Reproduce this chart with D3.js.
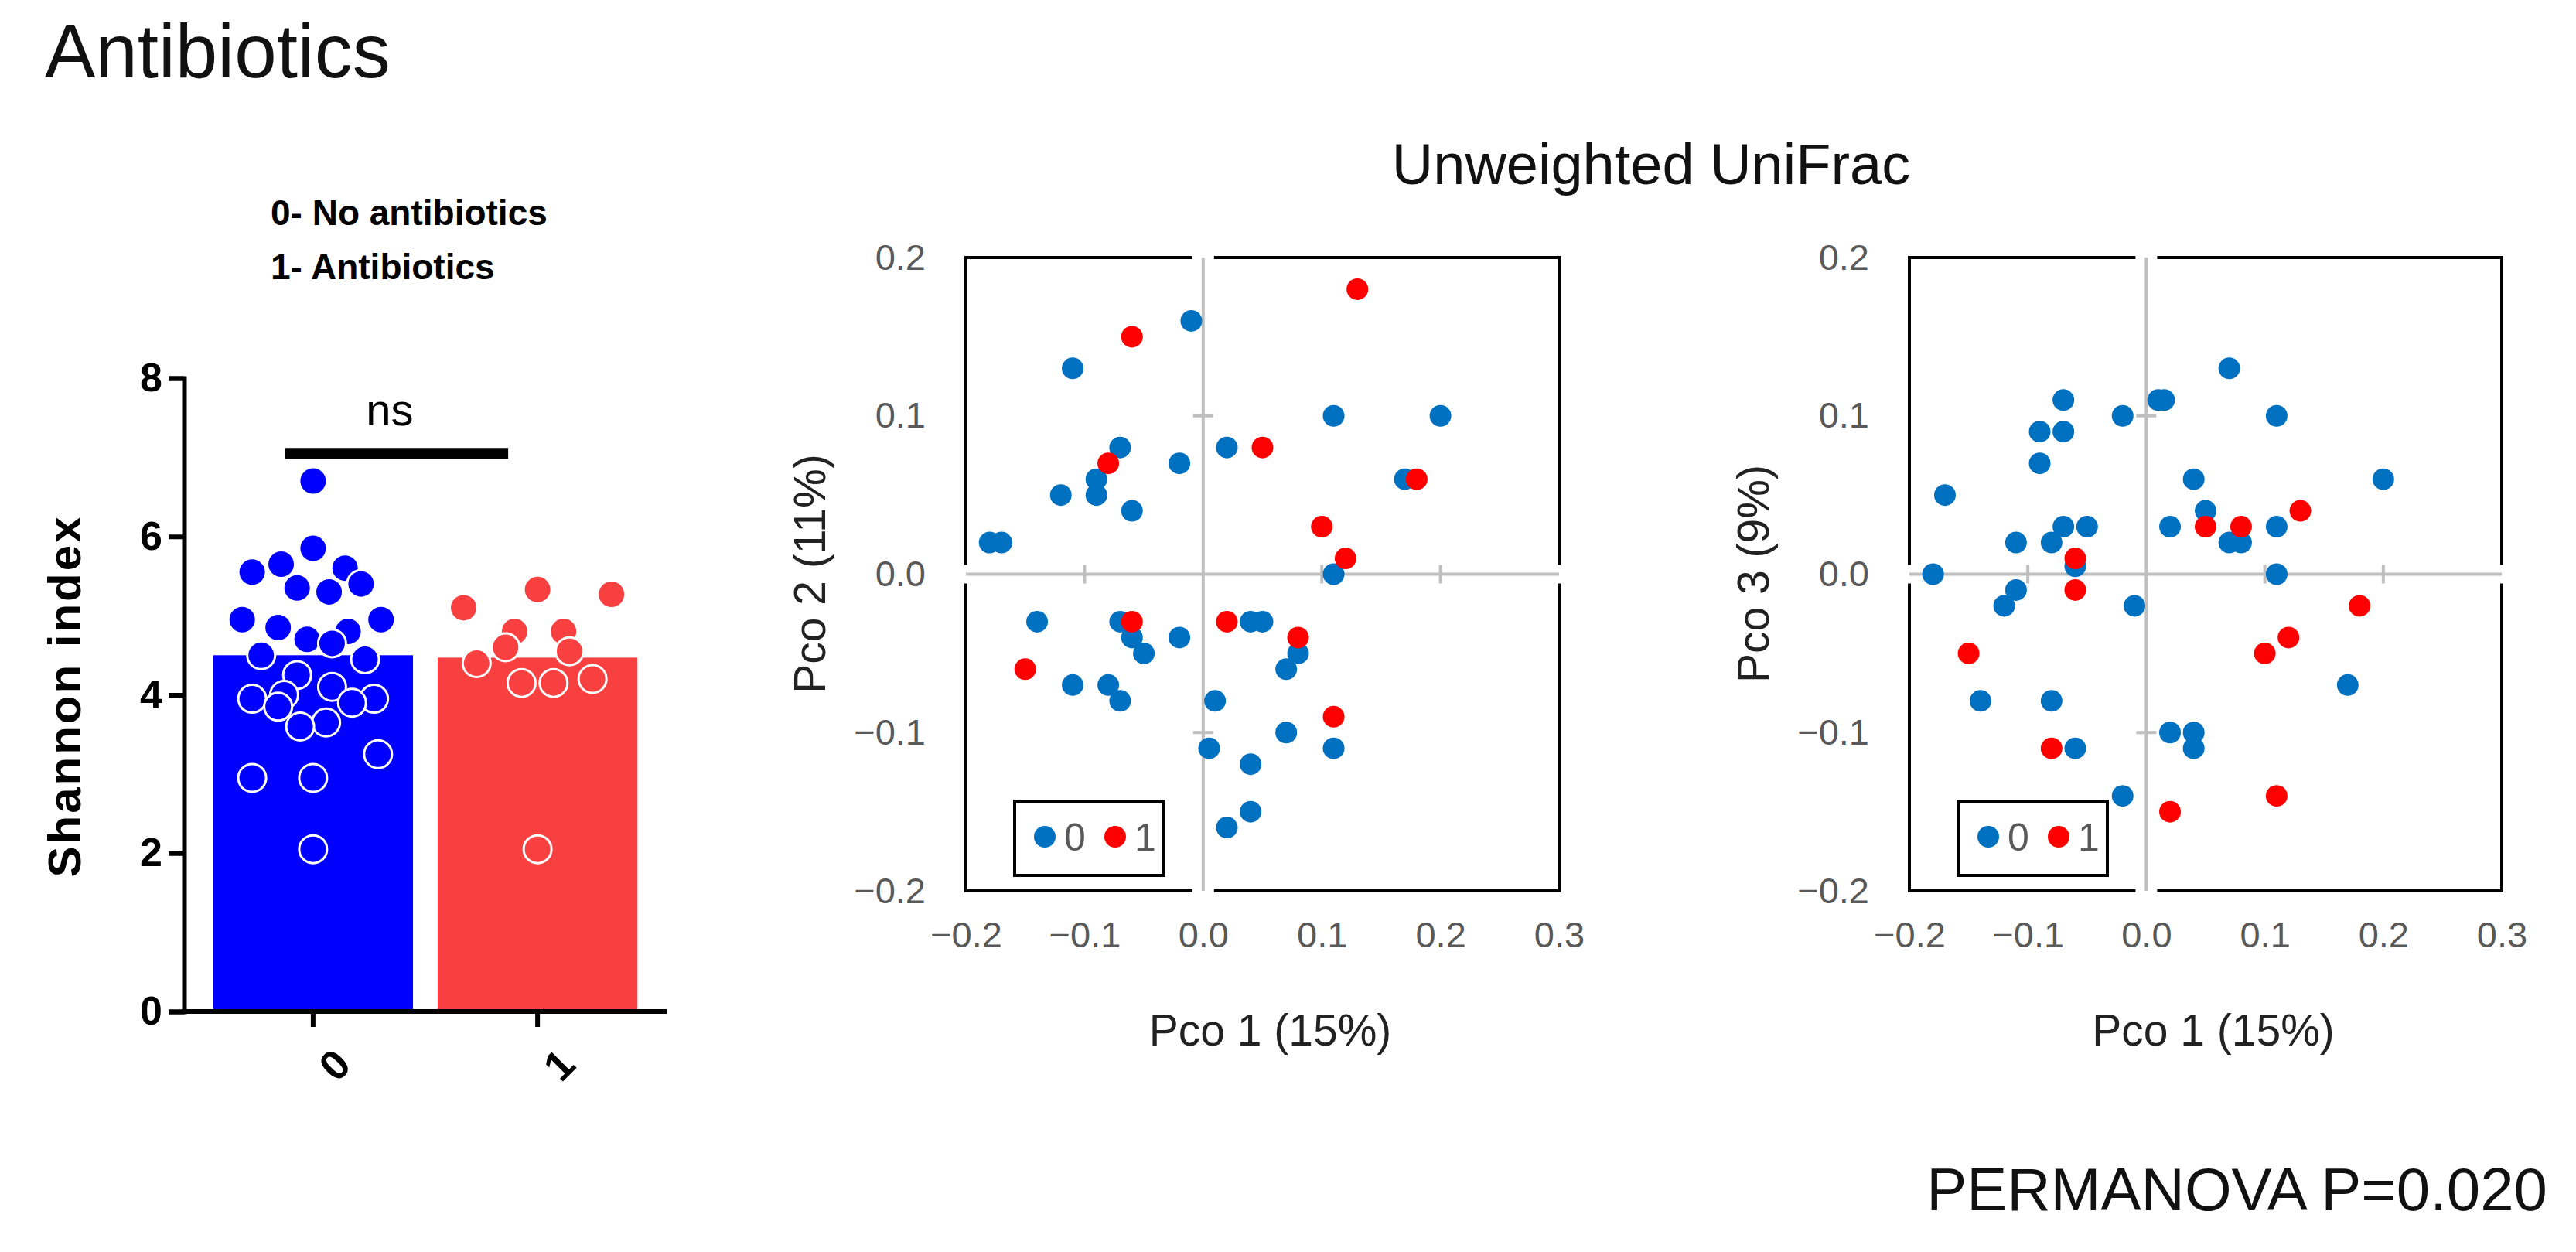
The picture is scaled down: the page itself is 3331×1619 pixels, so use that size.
<!DOCTYPE html>
<html>
<head>
<meta charset="utf-8">
<script src="https://d3js.org/d3.v7.min.js"></script>
<style>
  body { margin: 0; background: #fff; }
  text { font-family: Arial, "Liberation Sans", sans-serif; }
</style>
</head>
<body>
<script>
// Shannon index bar chart
var groups = ["0", "1"]
var groupMeans = [4.5, 4.47]
var groupColors = ["#0000ff", "#f94040"]
// [value, jitter as fraction of half bar width]
var shannon0 = [[6.7,0],[5.85,0],[5.65,-0.32],[5.55,-0.61],[5.6,0.32],[5.4,0.48],[5.35,-0.16],[5.3,0.16],
  [4.95,-0.71],[4.95,0.68],[4.85,-0.35],[4.8,0.35],[4.7,-0.06],[4.65,0.19],[4.5,-0.52],[4.45,0.52],
  [4.25,-0.16],[4.1,0.19],[4.0,-0.29],[3.95,-0.61],[3.95,0.61],[3.9,0.39],[3.85,-0.35],[3.65,0.13],
  [3.6,-0.13],[3.25,0.65],[2.95,-0.61],[2.95,0],[2.05,0]]
var shannon1 = [[5.33,0],[5.27,0.74],[5.1,-0.74],[4.8,-0.23],[4.8,0.26],[4.6,-0.32],[4.55,0.32],
  [4.4,-0.61],[4.2,0.55],[4.15,-0.16],[4.15,0.16],[2.05,0]]
var shannonTicks = [0, 2, 4, 6, 8]

// PCoA scatter
var pco1_blue = [-0.18,-0.17,-0.11,-0.12,-0.09,-0.09,-0.07,-0.06,-0.02,-0.01,0.02,0.11,0.20,0.17,0.11,
  -0.14,-0.07,-0.06,-0.05,-0.02,-0.11,-0.08,-0.07,0.01,0.04,0.05,0.08,0.07,0.07,0.11,0.005,0.04,0.04,0.02]
var pco2_blue = [0.02,0.02,0.13,0.05,0.06,0.05,0.08,0.04,0.07,0.16,0.08,0.10,0.10,0.06,0.00,
  -0.03,-0.03,-0.04,-0.05,-0.04,-0.07,-0.07,-0.08,-0.08,-0.03,-0.03,-0.05,-0.06,-0.10,-0.11,-0.11,-0.12,-0.15,-0.16]
var pco1_red = [-0.06,0.13,-0.08,0.05,0.18,0.10,0.12,-0.06,0.02,0.08,-0.15,0.11]
var pco2_red = [0.15,0.18,0.07,0.08,0.06,0.03,0.01,-0.03,-0.03,-0.04,-0.06,-0.09]

var pco1b_blue = [-0.17,-0.18,-0.09,-0.07,-0.07,-0.09,-0.02,0.01,0.015,0.07,0.11,0.04,0.05,0.02,0.07,0.08,0.11,0.20,0.11,
  -0.07,-0.05,-0.11,-0.08,-0.06,-0.11,-0.12,-0.01,-0.14,-0.08,-0.06,0.02,0.04,0.04,-0.02,0.17]
var pco3_blue = [0.05,0.0,0.09,0.11,0.09,0.07,0.10,0.11,0.11,0.13,0.10,0.06,0.04,0.03,0.02,0.02,0.03,0.06,0.0,
  0.03,0.03,0.02,0.02,0.005,-0.01,-0.02,-0.02,-0.08,-0.08,-0.11,-0.10,-0.10,-0.11,-0.14,-0.07]
var pco1b_red = [-0.06,-0.06,0.05,0.08,0.13,0.18,0.12,0.10,-0.15,-0.08,0.02,0.11]
var pco3_red = [0.01,-0.01,0.03,0.03,0.04,-0.02,-0.04,-0.05,-0.05,-0.11,-0.15,-0.14]

var pcoTicksX = [-0.2,-0.1,0.0,0.1,0.2,0.3]
var pcoTicksY = [-0.2,-0.1,0.0,0.1,0.2]

var svg = d3.select("body").append("svg").attr("width", 3331).attr("height", 1619)

svg.append("text").attr("x", 58).attr("y", 100).attr("font-size", 98).attr("fill", "#111").text("Antibiotics")
svg.append("text").attr("x", 350).attr("y", 291).attr("font-size", 46).attr("font-weight", "bold").attr("font-family", "Open Sans").text("0- No antibiotics")
svg.append("text").attr("x", 350).attr("y", 361).attr("font-size", 46).attr("font-weight", "bold").attr("font-family", "Open Sans").text("1- Antibiotics")

// ---- bar chart
var bx = d3.scaleBand().domain(groups).range([238, 862]).paddingInner(0.11).paddingOuter(0.13)
var by = d3.scaleLinear().domain([0, 8]).range([1308, 489])
var bar = svg.append("g")
bar.selectAll(".bar").data(groups).enter().append("rect")
  .attr("x", function(d){return bx(d)}).attr("width", bx.bandwidth())
  .attr("y", function(d,i){return by(groupMeans[i])})
  .attr("height", function(d,i){return by(0)-by(groupMeans[i])})
  .attr("fill", function(d,i){return groupColors[i]})
;[shannon0, shannon1].forEach(function(arr, i){
  var cx = bx(groups[i]) + bx.bandwidth()/2
  bar.selectAll(".dot"+i).data(arr).enter().append("circle")
    .attr("cx", function(d){return cx + d[1]*bx.bandwidth()/2})
    .attr("cy", function(d){return by(d[0])})
    .attr("r", 18).attr("fill", groupColors[i]).attr("stroke", "#fff").attr("stroke-width", 3)
})
var yAx = bar.append("g").attr("transform", "translate(238,0)")
  .call(d3.axisLeft(by).tickValues(shannonTicks).tickSize(20).tickPadding(8))
yAx.selectAll("text").attr("font-size", 52).attr("font-weight", "bold").attr("fill", "#000")
yAx.selectAll("line,path").attr("stroke", "#000").attr("stroke-width", 6)
var xAx = bar.append("g").attr("transform", "translate(0,1308)")
  .call(d3.axisBottom(bx).tickSize(20).tickSizeOuter(0))
xAx.select(".domain").attr("d", "M235,0H862")
xAx.selectAll("line,path").attr("stroke", "#000").attr("stroke-width", 6)
xAx.selectAll("text").attr("font-size", 54).attr("font-weight", "bold").attr("fill", "#000")
  .attr("text-anchor", "end").attr("transform", "translate(22,42) rotate(-45)").attr("dy", "0.35em")
bar.append("text").attr("transform", "translate(104,900) rotate(-90)").attr("text-anchor", "middle")
  .attr("font-size", 60).attr("font-weight", "bold").attr("letter-spacing", 3).text("Shannon index")
bar.append("line").attr("x1", bx("0")+bx.bandwidth()/2-36).attr("x2", bx("1")+bx.bandwidth()/2-38)
  .attr("y1", by(7.05)).attr("y2", by(7.05)).attr("stroke", "#000").attr("stroke-width", 14)
bar.append("text").attr("x", 504).attr("y", by(7.05)-36).attr("text-anchor", "middle").attr("font-size", 58).text("ns")

// ---- scatter plots
svg.append("text").attr("x", 2135).attr("y", 238).attr("text-anchor", "middle").attr("font-size", 74).attr("fill", "#111").text("Unweighted UniFrac")
svg.append("text").attr("x", 3294).attr("y", 1565).attr("text-anchor", "end").attr("font-size", 78).attr("fill", "#111").text("PERMANOVA P=0.020")

function scatter(left, right, xb, yb, xr, yr, ylabel){
  var x = d3.scaleLinear().domain([-0.2, 0.3]).range([left, right])
  var y = d3.scaleLinear().domain([-0.2, 0.2]).range([1152, 333])
  var g = svg.append("g")
  g.append("rect").attr("x", left).attr("y", 333).attr("width", right-left).attr("height", 819)
    .attr("fill", "none").attr("stroke", "#000").attr("stroke-width", 4)
  var grey = "#bfbfbf"
  g.append("rect").attr("x", x(0)-14).attr("y", 329).attr("width", 28).attr("height", 8).attr("fill", "#fff")
  g.append("rect").attr("x", x(0)-14).attr("y", 1148).attr("width", 28).attr("height", 8).attr("fill", "#fff")
  g.append("rect").attr("x", left-4).attr("y", y(0)-12).attr("width", 8).attr("height", 24).attr("fill", "#fff")
  g.append("rect").attr("x", right-4).attr("y", y(0)-12).attr("width", 8).attr("height", 24).attr("fill", "#fff")
  g.append("line").attr("x1", x(0)).attr("x2", x(0)).attr("y1", 333).attr("y2", 1152).attr("stroke", grey).attr("stroke-width", 4)
  g.append("line").attr("x1", left).attr("x2", right).attr("y1", y(0)).attr("y2", y(0)).attr("stroke", grey).attr("stroke-width", 4)
  g.selectAll(".xt").data(pcoTicksX.filter(function(t){return t!=0 && t>-0.2 && t<0.3})).enter().append("line")
    .attr("x1", function(d){return x(d)}).attr("x2", function(d){return x(d)})
    .attr("y1", y(0)-12).attr("y2", y(0)+12).attr("stroke", grey).attr("stroke-width", 4)
  g.selectAll(".yt").data([-0.1, 0.1]).enter().append("line")
    .attr("x1", x(0)-13).attr("x2", x(0)+13)
    .attr("y1", function(d){return y(d)}).attr("y2", function(d){return y(d)}).attr("stroke", grey).attr("stroke-width", 4)
  var xa = g.append("g").attr("transform", "translate(0,1152)").call(d3.axisBottom(x).tickValues(pcoTicksX).tickFormat(d3.format(".1f")).tickSize(0).tickPadding(40))
  var ya = g.append("g").attr("transform", "translate(" + left + ",0)").call(d3.axisLeft(y).tickValues(pcoTicksY).tickFormat(d3.format(".1f")).tickSize(0).tickPadding(52))
  ;[xa, ya].forEach(function(a){
    a.select(".domain").remove()
    a.selectAll("text").attr("font-size", 47).attr("fill", "#595959")
  })
  g.append("text").attr("x", (left+right)/2 + 10).attr("y", 1352).attr("text-anchor", "middle").attr("font-size", 57).attr("fill", "#222").text("Pco 1 (15%)")
  g.append("text").attr("transform", "translate(" + (left-182) + ",742) rotate(-90)").attr("text-anchor", "middle").attr("font-size", 57).attr("fill", "#222").text(ylabel)
  g.selectAll(".b").data(xb).enter().append("circle")
    .attr("cx", function(d){return x(d)}).attr("cy", function(d,i){return y(yb[i])}).attr("r", 14).attr("fill", "#0070c0")
  g.selectAll(".r").data(xr).enter().append("circle")
    .attr("cx", function(d){return x(d)}).attr("cy", function(d,i){return y(yr[i])}).attr("r", 14).attr("fill", "#ff0000")
  // legend
  var lx = left + 63, ly = 1036
  g.append("rect").attr("x", lx).attr("y", ly).attr("width", 193).attr("height", 96).attr("fill", "#fff").attr("stroke", "#000").attr("stroke-width", 4)
  g.append("circle").attr("cx", lx+39).attr("cy", ly+46).attr("r", 14).attr("fill", "#0070c0")
  g.append("text").attr("x", lx+64).attr("y", ly+64).attr("font-size", 50).attr("fill", "#595959").text("0")
  g.append("circle").attr("cx", lx+130).attr("cy", ly+46).attr("r", 14).attr("fill", "#ff0000")
  g.append("text").attr("x", lx+155).attr("y", ly+64).attr("font-size", 50).attr("fill", "#595959").text("1")
}
scatter(1249, 2016, pco1_blue, pco2_blue, pco1_red, pco2_red, "Pco 2 (11%)")
scatter(2469, 3235, pco1b_blue, pco3_blue, pco1b_red, pco3_red, "Pco 3 (9%)")
</script>
</body>
</html>
